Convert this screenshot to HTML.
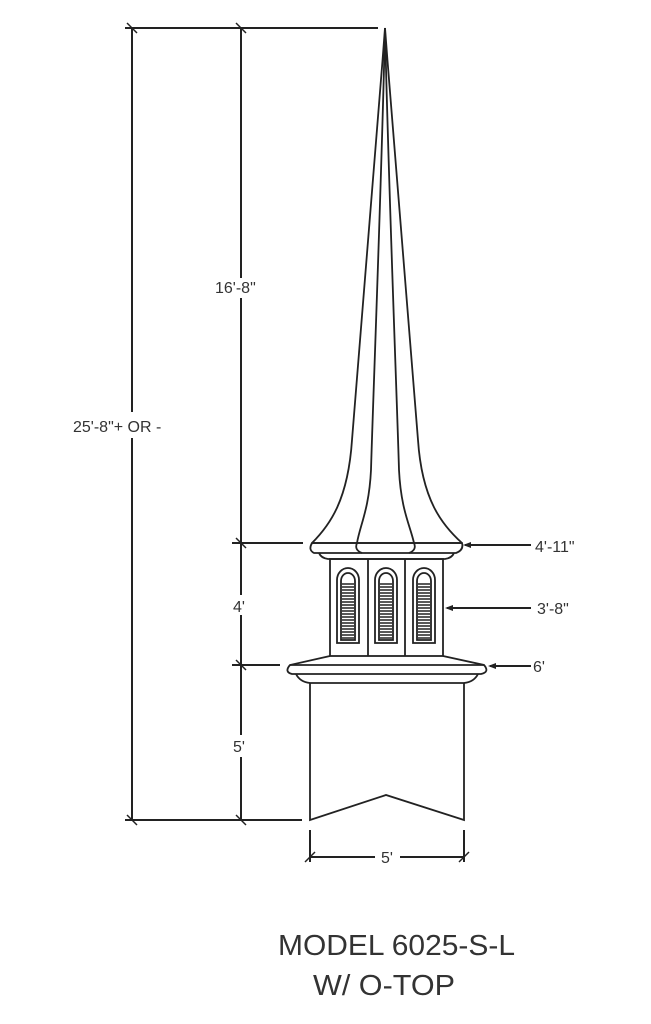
<!DOCTYPE html>
<html><head><meta charset="utf-8"><style>
html,body{margin:0;padding:0;background:#fff;width:651px;height:1024px;overflow:hidden}
svg{display:block}
text{font-family:"Liberation Sans",sans-serif;fill:#333}
</style></head><body>
<svg width="651" height="1024" viewBox="0 0 651 1024" xmlns="http://www.w3.org/2000/svg">
<g stroke="#222" stroke-width="2" fill="none">
<line x1="125" y1="28" x2="378" y2="28"/>
<line x1="132" y1="28" x2="132" y2="412"/><line x1="132" y1="438" x2="132" y2="820"/>
<line x1="241" y1="28" x2="241" y2="278"/><line x1="241" y1="298" x2="241" y2="595"/>
<line x1="241" y1="615" x2="241" y2="735"/><line x1="241" y1="757" x2="241" y2="820"/>
<line x1="232" y1="543" x2="303" y2="543"/>
<line x1="232" y1="665" x2="280" y2="665"/>
<line x1="125" y1="820" x2="302" y2="820"/>
<line x1="310" y1="830" x2="310" y2="862"/><line x1="464" y1="830" x2="464" y2="862"/>
<line x1="310" y1="857" x2="375" y2="857"/><line x1="400" y1="857" x2="464" y2="857"/>
<g stroke-width="1.5">
<line x1="127" y1="23" x2="137" y2="33"/><line x1="236" y1="23" x2="246" y2="33"/>
<line x1="236" y1="538" x2="246" y2="548"/><line x1="236" y1="660" x2="246" y2="670"/>
<line x1="127" y1="815" x2="137" y2="825"/><line x1="236" y1="815" x2="246" y2="825"/>
<line x1="305" y1="862" x2="315" y2="852"/><line x1="459" y1="862" x2="469" y2="852"/>
</g>
<line x1="465" y1="545" x2="531" y2="545"/>
<line x1="447" y1="608" x2="531" y2="608"/>
<line x1="490" y1="666" x2="531" y2="666"/>
</g>
<g fill="#222"><path d="M463,545 l8,-3 v6z"/><path d="M445,608 l8,-3 v6z"/><path d="M488,666 l8,-3 v6z"/></g>
<g stroke="#222" stroke-width="1.8" fill="none">
<path d="M385,28 C372,200 357,380 352,440 C348,500 330,525 312,543"/>
<path d="M385,28 C381,200 373,400 371,470 C369,510 360,525 357,543"/>
<path d="M385,28 C389,200 397,400 399,470 C401,510 410,525 414,543"/>
<path d="M385,28 C398,200 413,380 418,440 C422,500 442,525 462,543"/>
<path d="M312,543 Q308,550 314,553 L456,553 Q464,550 462,543 Z"/>
<line x1="312" y1="543" x2="462" y2="543"/>
<path d="M319,553 Q321,558 328,559 L445,559 Q452,558 454,553"/>
<path d="M357,543 Q354,550 362,553 M414,543 Q417,550 409,553"/>
<rect x="330" y="559" width="113" height="97"/>
<line x1="368" y1="559" x2="368" y2="656"/><line x1="405" y1="559" x2="405" y2="656"/>
<g id="w">
<path d="M337,643 V580 a11,12 0 0 1 22,0 V643 Z"/>
<path d="M341,640 V581 a7,8 0 0 1 14,0 V640 Z"/>
</g>
<use href="#w" x="38"/><use href="#w" x="76"/>
<path d="M330,656 L290,665 Q284,672 292,674 L481,674 Q490,672 484,665 L443,656"/>
<line x1="290" y1="665" x2="484" y2="665"/>
<path d="M296,674 Q300,682 310,683 L464,683 Q474,682 478,674"/>
<path d="M310,683 V820 L386,795 L464,820 V683"/>
</g>
<g stroke="#222" stroke-width="1.5">
<path id="lv" d="M342,584h12M342,587h12M342,590h12M342,593h12M342,596h12M342,599h12M342,602h12M342,605h12M342,608h12M342,611h12M342,614h12M342,617h12M342,620h12M342,623h12M342,626h12M342,629h12M342,632h12M342,635h12M342,638h12"/>
<use href="#lv" x="38"/><use href="#lv" x="76"/>
</g>
<text x="215" y="293" font-size="16">16'-8"</text>
<text x="73" y="432" font-size="16">25'-8"+ OR -</text>
<text x="233" y="612" font-size="16">4'</text>
<text x="233" y="752" font-size="16">5'</text>
<text x="381" y="863" font-size="16">5'</text>
<text x="535" y="552" font-size="16">4'-11"</text>
<text x="537" y="614" font-size="16">3'-8"</text>
<text x="533" y="672" font-size="16">6'</text>
<text x="278" y="955" font-size="29" textLength="237" lengthAdjust="spacingAndGlyphs">MODEL 6025-S-L</text>
<text x="313" y="995" font-size="29" textLength="142" lengthAdjust="spacingAndGlyphs">W/ O-TOP</text>
</svg>
</body></html>
